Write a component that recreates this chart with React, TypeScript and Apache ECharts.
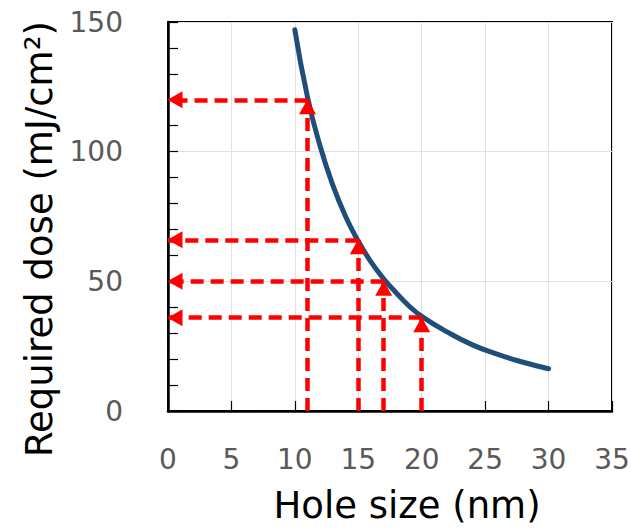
import React, { useEffect, useRef } from "react";
import * as echarts from "echarts";

const holeSize = [10, 11, 12, 13, 14, 15, 16, 17, 18, 19, 20, 22, 24, 26, 28, 30];
const requiredDose = [147, 121, 102, 87, 75, 65.5, 57.5, 51, 45.5, 40.5, 36.5, 30.5, 25.5, 21.8, 18.8, 16.3];

// guide arrows: hole size (vertical arrow) and dose level (horizontal arrow)
const guideX = [11, 15, 17, 20];
const guideY = [120, 66, 50, 36];

const xTicks = [0, 5, 10, 15, 20, 25, 30, 35];
const yTicks = [0, 50, 100, 150];

const FONT = "DejaVu Sans";

export default function App() {
  const ref = useRef<HTMLDivElement>(null);
  useEffect(() => {
    document.body.style.margin = "0";
    const chart = echarts.init(ref.current!, undefined, { renderer: "svg" });
    const arrowData: any[] = [];
    guideX.forEach((x, i) => {
      arrowData.push([{ coord: [x, 0] }, { coord: [x, guideY[i]] }]);
      arrowData.push([{ coord: [x, guideY[i]] }, { coord: [0, guideY[i]] }]);
    });
    chart.setOption({
      animation: false,
      grid: {
        left: 168,
        right: 19,
        top: 22,
        bottom: 120,
        show: true,
        borderColor: "#000",
        borderWidth: 2,
        outerBoundsMode: "none",
      },
      xAxis: {
        type: "value",
        min: xTicks[0],
        max: xTicks[xTicks.length - 1],
        interval: 5,
        axisLine: { show: true, lineStyle: { color: "#000", width: 2.5 } },
        axisTick: { show: true, inside: true, length: 10, lineStyle: { color: "#000", width: 1.2 } },
        axisLabel: { color: "#595959", fontSize: 28, fontFamily: FONT, margin: 34 },
        splitLine: { show: true, lineStyle: { color: "#e0e0e0", width: 1 } },
      },
      yAxis: {
        type: "value",
        min: yTicks[0],
        max: yTicks[yTicks.length - 1],
        interval: 50,
        axisLine: { show: true, lineStyle: { color: "#000", width: 2.5 } },
        axisTick: { show: true, inside: true, length: 10, lineStyle: { color: "#000", width: 1.2 } },
        minorTick: { show: true, splitNumber: 5, length: 10, lineStyle: { color: "#000", width: 1.2 } },
        axisLabel: { color: "#595959", fontSize: 28, fontFamily: FONT, margin: 45 },
        splitLine: { show: true, lineStyle: { color: "#e0e0e0", width: 1 } },
      },
      graphic: [
        {
          type: "text",
          x: 407,
          y: 505,
          style: {
            text: "Hole size (nm)",
            fontSize: 37,
            fontFamily: FONT,
            fill: "#000",
            align: "center",
            verticalAlign: "middle",
          },
        },
        {
          type: "text",
          x: 39,
          y: 239,
          rotation: Math.PI / 2,
          style: {
            text: "Required dose (mJ/cm²)",
            fontSize: 37,
            fontFamily: FONT,
            fill: "#000",
            align: "center",
            verticalAlign: "middle",
          },
        },
      ],
      series: [
        {
          type: "line",
          data: holeSize.map((x, i) => [x, requiredDose[i]]),
          smooth: true,
          showSymbol: false,
          lineStyle: { color: "#1f4e79", width: 5, cap: "round" },
          z: 3,
          silent: true,
        },
        {
          type: "line",
          data: [],
          z: 4,
          markLine: {
            silent: true,
            symbol: ["none", "triangle"],
            symbolSize: [17, 15],
            symbolOffset: [[0, 0], [0, 7]],
            label: { show: false },
            lineStyle: { color: "#ff0000", width: 4.5, type: [13, 7] },
            emphasis: { disabled: true },
            data: arrowData,
          },
        },
      ],
    });
    return () => chart.dispose();
  }, []);
  return <div ref={ref} style={{ width: 631, height: 531 }} />;
}
